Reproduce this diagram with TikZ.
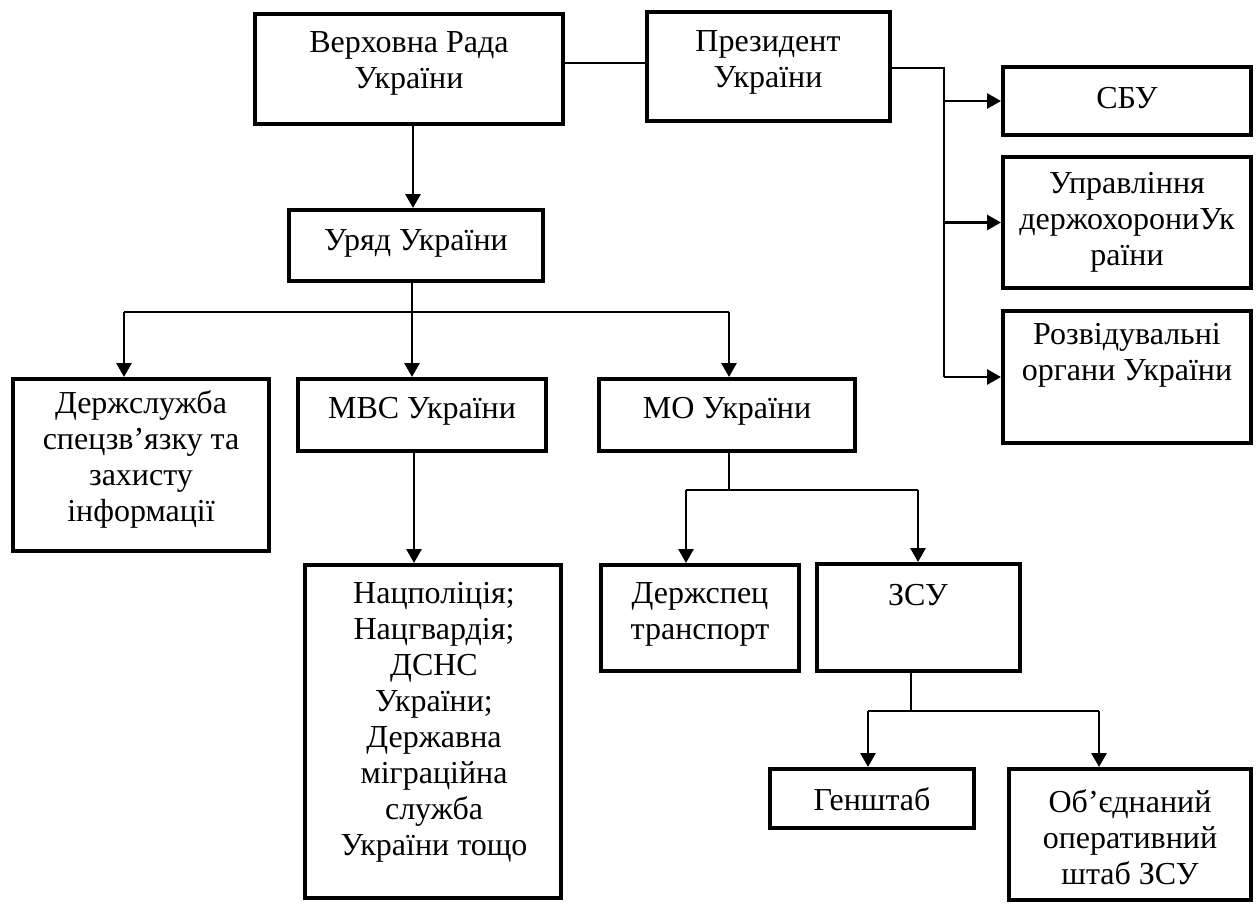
\documentclass[tikz,border=0pt]{standalone}
\usepackage{fontspec}
\setmainfont{Liberation Serif}
\usetikzlibrary{arrows.meta,calc}
\begin{document}
\begin{tikzpicture}[x=0.5pt,y=-0.5pt,
  box/.style={draw, line width=2.2pt, inner sep=0pt},
  txt/.style={font=\fontsize{16}{18}\selectfont, align=center, inner sep=0pt},
  ln/.style={line width=1pt},
  arr/.style={line width=1.4pt, -{Triangle[length=7pt,width=7.5pt]}}]
\useasboundingbox (0,0) rectangle (1257,904);
% boxes
\node[box, minimum width=153.8pt, minimum height=54.8pt] (vr)   at (409,69) {};
\node[box, minimum width=121.3pt, minimum height=54.3pt] (prez) at (768.5,66.5) {};
\node[box, minimum width=126.8pt, minimum height=35.3pt] (ury)  at (416,245.5) {};
\node[box, minimum width=123.8pt, minimum height=33.8pt] (sbu)  at (1127,101) {};
\node[box, minimum width=123.8pt, minimum height=65.3pt] (upr)  at (1127,222.5) {};
\node[box, minimum width=123.8pt, minimum height=65.8pt] (rozv) at (1127,377) {};
\node[box, minimum width=127.8pt, minimum height=85.8pt] (derzh) at (141,465) {};
\node[box, minimum width=123.8pt, minimum height=35.8pt] (mvs)  at (422,415) {};
\node[box, minimum width=127.8pt, minimum height=35.8pt] (mo)   at (727,415) {};
\node[box, minimum width=127.8pt, minimum height=166.3pt] (nac) at (433,731.5) {};
\node[box, minimum width=98.8pt, minimum height=52.8pt] (dsp)   at (700,618) {};
\node[box, minimum width=101.3pt, minimum height=53.3pt] (zsu)  at (918.5,617.5) {};
\node[box, minimum width=101.8pt, minimum height=29.3pt] (gen)  at (872,798.5) {};
\node[box, minimum width=120.8pt, minimum height=65.3pt] (obj)  at (1130,834.5) {};
% texts
\node[txt] (tvr)   at (409,63)   {Верховна Рада\\України};
\node[txt] (tprez) at (768,62)   {Президент\\України};
\node[txt] (tury)  at (416,243)  {Уряд України};
\node[txt] (tsbu)  at (1127,98)  {СБУ};
\node[txt] (tupr)  at (1127,222) {Управління\\держохорониУк\\раїни};
\node[txt] (trozv) at (1127,355) {Розвідувальні\\органи України};
\node[txt] (tderzh) at (141,459) {Держслужба\\спецзв’язку та\\захисту\\інформації};
\node[txt] (tmvs)  at (422,411)  {МВС України};
\node[txt] (tmo)   at (727,411)  {МО України};
\node[txt] (tnac)  at (434,722)  {Нацполіція;\\Нацгвардія;\\ДСНС\\України;\\Державна\\міграційна\\служба\\України тощо};
\node[txt] (tdsp)  at (700,614)  {Держспец\\транспорт};
\node[txt] (tzsu)  at (918,595)  {ЗСУ};
\node[txt] (tgen)  at (872,799)  {Генштаб};
\node[txt] (tobj)  at (1130,837) {Об’єднаний\\оперативний\\штаб ЗСУ};
% connectors
\coordinate (h1) at (0,63);
\draw[ln] (vr.east |- h1) -- (prez.west |- h1);
\draw[arr] ($(vr.south)+(4,0)$) -- ($(ury.north)+(-3,0)$);
\coordinate (pv) at (944,68);
\draw[ln] (prez.east |- pv) -- (pv) -- (pv |- rozv.west);
\draw[arr] (pv |- sbu.west) -- (sbu.west);
\draw[arr] (pv |- upr.west) -- (upr.west);
\draw[arr] (pv |- rozv.west) -- (rozv.west);
\coordinate (b1) at (412,312);
\coordinate (bL) at (124,312);
\coordinate (bR) at (729,312);
\draw[ln] (ury.south -| b1) -- (b1);
\draw[ln] (bL) -- (bR);
\draw[arr] (bL) -- (bL |- derzh.north);
\draw[arr] (b1) -- (b1 |- mvs.north);
\draw[arr] (bR) -- (bR |- mo.north);
\coordinate (m1) at ($(mvs.south)+(-8,0)$);
\draw[arr] (m1) -- (m1 |- nac.north);
\coordinate (b2) at (729,490);
\coordinate (b2L) at (686,490);
\coordinate (b2R) at (918,490);
\draw[ln] (mo.south -| b2) -- (b2);
\draw[ln] (b2L) -- (b2R);
\draw[arr] (b2L) -- (b2L |- dsp.north);
\draw[arr] (b2R) -- (b2R |- zsu.north);
\coordinate (b3) at (911,711);
\coordinate (b3L) at (868,711);
\coordinate (b3R) at (1099,711);
\draw[ln] (zsu.south -| b3) -- (b3);
\draw[ln] (b3L) -- (b3R);
\draw[arr] (b3L) -- (b3L |- gen.north);
\draw[arr] (b3R) -- (b3R |- obj.north);
\end{tikzpicture}
\end{document}
